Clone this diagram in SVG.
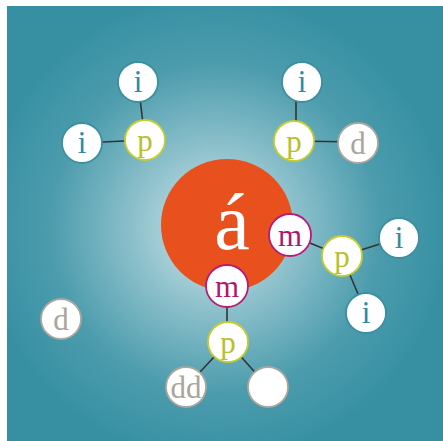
<svg xmlns="http://www.w3.org/2000/svg" width="443" height="441" viewBox="0 0 443 441">
<defs>
<radialGradient id="bg" cx="215" cy="228" r="235" gradientUnits="userSpaceOnUse">
<stop offset="0" stop-color="#d2e8ec"/>
<stop offset="0.35" stop-color="#8cc0cb"/>
<stop offset="0.7" stop-color="#4c9cad"/>
<stop offset="1" stop-color="#3690a2"/>
</radialGradient>
<style>
.n{fill:#fff;stroke-width:1.8}
.i{stroke:#3a8fa1}
.p{stroke:#c4cf2c}
.m{stroke:#b81a78}
.d{stroke:#aca79e}
text{font-family:"Liberation Serif","DejaVu Serif",serif;font-size:31px;text-anchor:middle}
.ti{fill:#2f8b9d}
.tp{fill:#b6c12c}
.tm{fill:#b0176f}
.td{fill:#aaa59d}
#edges line{stroke:#333;stroke-width:1.6}
</style>
</defs>
<rect x="7" y="6" width="436" height="435" fill="url(#bg)"/>
<g id="edges">
<line x1="138" y1="82" x2="145" y2="140"/>
<line x1="82" y1="143" x2="145" y2="140"/>
<line x1="296" y1="82" x2="296" y2="141"/>
<line x1="294" y1="141" x2="358" y2="142"/>
<line x1="290" y1="235" x2="342" y2="256"/>
<line x1="342" y1="256" x2="399" y2="238"/>
<line x1="342" y1="256" x2="366" y2="313"/>
<line x1="227" y1="286" x2="227" y2="342"/>
<line x1="228" y1="342" x2="186" y2="387"/>
<line x1="228" y1="342" x2="268" y2="387"/>
</g>
<g id="center">
<circle cx="227" cy="225" r="66" fill="#e8511e"/>
<text x="232" y="249" style="font-size:80px;fill:#fff">á</text>
</g>
<g id="i1"><circle class="n i" cx="138" cy="82" r="20"/><text class="ti" x="138" y="92">i</text></g>
<g id="i2"><circle class="n i" cx="82" cy="143" r="20"/><text class="ti" x="82" y="153">i</text></g>
<g id="p1"><circle class="n p" cx="145" cy="140" r="20"/><text class="tp" x="145" y="151">p</text></g>
<g id="i3"><circle class="n i" cx="302" cy="82" r="20"/><text class="ti" x="302" y="92">i</text></g>
<g id="p2"><circle class="n p" cx="294" cy="141" r="20"/><text class="tp" x="294" y="152">p</text></g>
<g id="d1"><circle class="n d" cx="358" cy="143" r="20"/><text class="td" x="358" y="154">d</text></g>
<g id="m1"><circle class="n m" cx="290" cy="235" r="21"/><text class="tm" x="290" y="246">m</text></g>
<g id="p3"><circle class="n p" cx="342" cy="256" r="20"/><text class="tp" x="342" y="267">p</text></g>
<g id="i4"><circle class="n i" cx="399" cy="238" r="20"/><text class="ti" x="399" y="248">i</text></g>
<g id="i5"><circle class="n i" cx="366" cy="313" r="20"/><text class="ti" x="366" y="323">i</text></g>
<g id="m2"><circle class="n m" cx="227" cy="286" r="21"/><text class="tm" x="227" y="297">m</text></g>
<g id="p4"><circle class="n p" cx="228" cy="342" r="20"/><text class="tp" x="228" y="353">p</text></g>
<g id="dd"><circle class="n d" cx="186" cy="387" r="20"/><text class="td" x="186" y="398">dd</text></g>
<g id="blank"><circle class="n d" cx="268" cy="387" r="20"/></g>
<g id="d2"><circle class="n d" cx="61" cy="319" r="20"/><text class="td" x="61" y="330">d</text></g>
</svg>
